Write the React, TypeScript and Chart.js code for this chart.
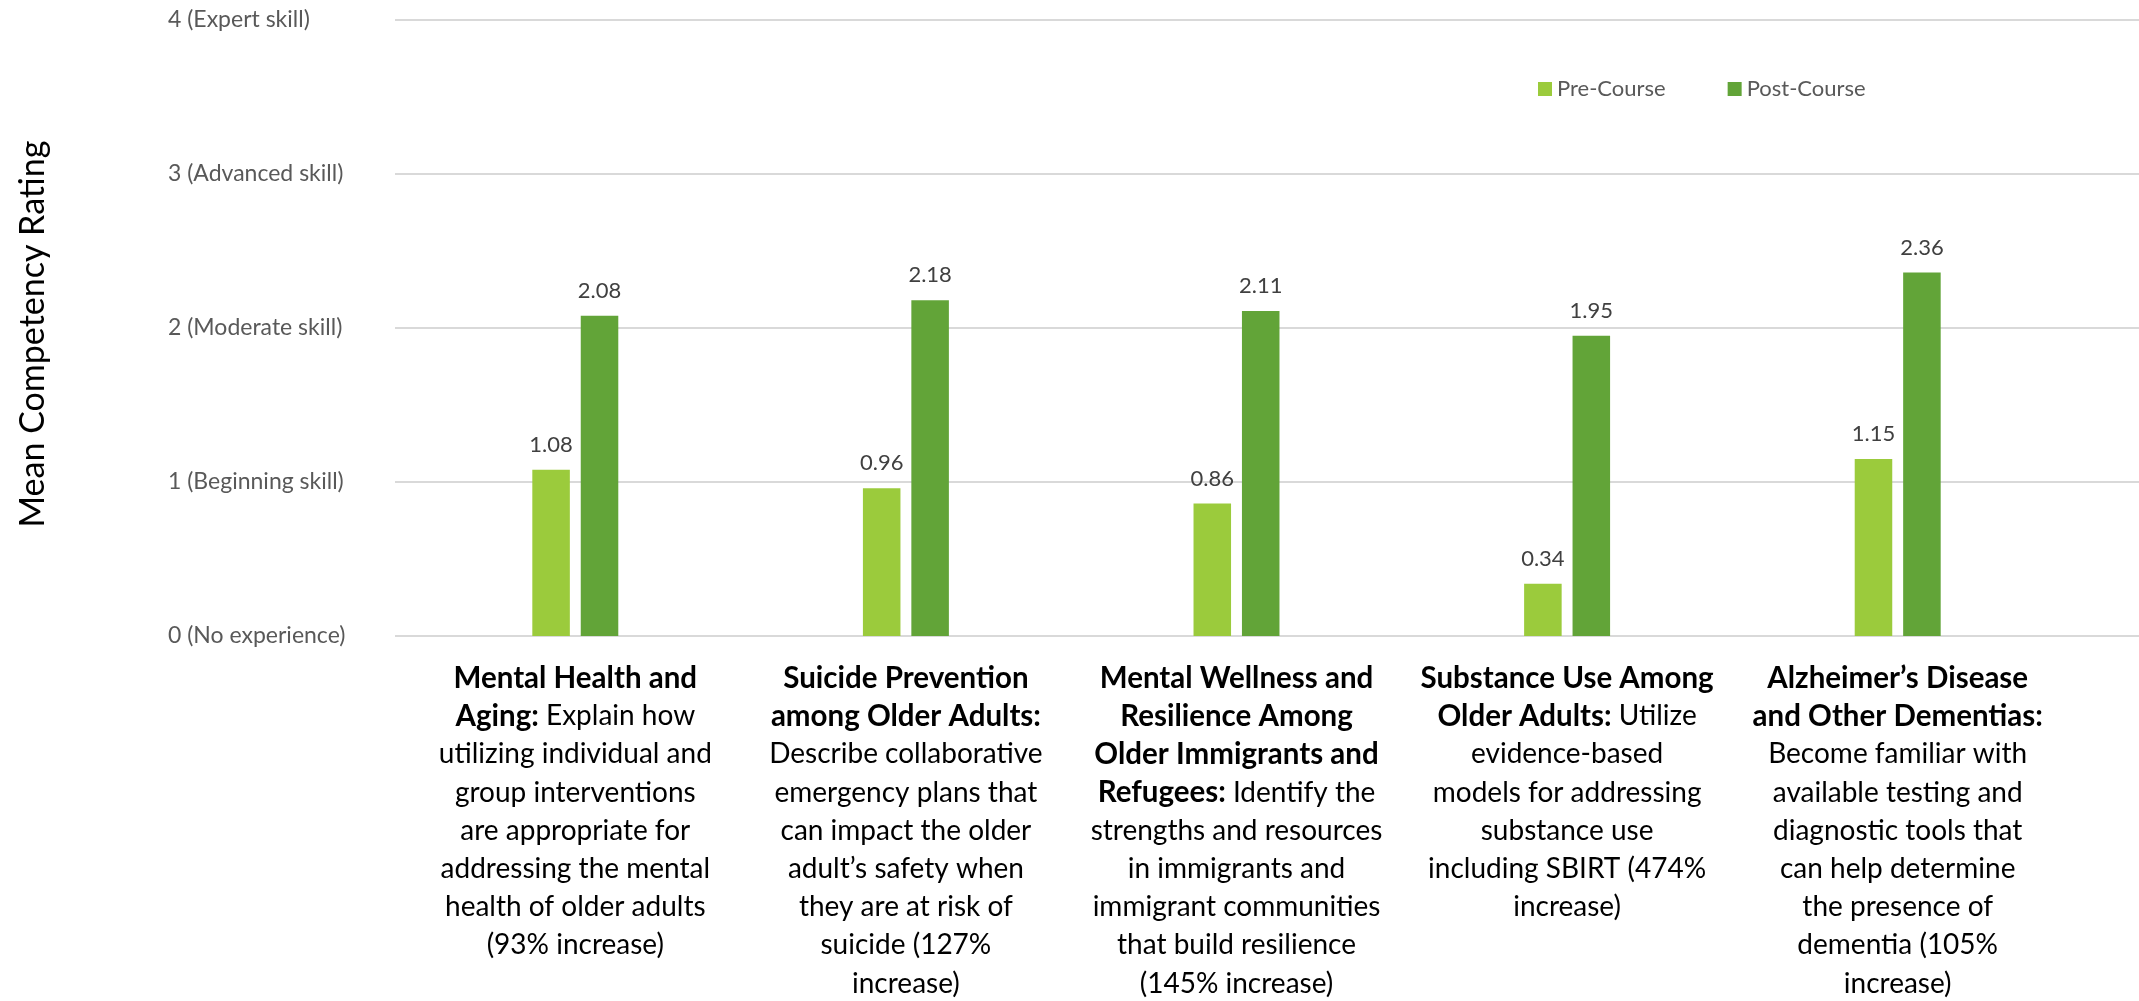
import React, { useEffect, useRef } from "react";
import { Chart, registerables } from "chart.js";

Chart.register(...registerables);

// ---------- data ----------
const categories = [
  "Mental Health and Aging",
  "Suicide Prevention among Older Adults",
  "Mental Wellness and Resilience Among Older Immigrants and Refugees",
  "Substance Use Among Older Adults",
  "Alzheimer’s Disease and Other Dementias",
];
const preCourse = [1.08, 0.96, 0.86, 0.34, 1.15];
const postCourse = [2.08, 2.18, 2.11, 1.95, 2.36];
const seriesNames = ["Pre-Course", "Post-Course"];
const yTickLabels = [
  "0 (No experience)",
  "1 (Beginning skill)",
  "2 (Moderate skill)",
  "3 (Advanced skill)",
  "4 (Expert skill)",
];
const yAxisTitle = "Mean Competency Rating";

// each line: [bold part, regular part]
const categoryLabelLines: [string, string][][] = [
  [
    ["Mental Health and", ""],
    ["Aging:", " Explain how"],
    ["", "utilizing individual and"],
    ["", "group interventions"],
    ["", "are appropriate for"],
    ["", "addressing the mental"],
    ["", "health of older adults"],
    ["", "(93% increase)"],
  ],
  [
    ["Suicide Prevention", ""],
    ["among Older Adults:", ""],
    ["", "Describe collaborative"],
    ["", "emergency plans that"],
    ["", "can impact the older"],
    ["", "adult’s safety when"],
    ["", "they are at risk of"],
    ["", "suicide (127%"],
    ["", "increase)"],
  ],
  [
    ["Mental Wellness and", ""],
    ["Resilience Among", ""],
    ["Older Immigrants and", ""],
    ["Refugees:", " Identify the"],
    ["", "strengths and resources"],
    ["", "in immigrants and"],
    ["", "immigrant communities"],
    ["", "that build resilience"],
    ["", "(145% increase)"],
  ],
  [
    ["Substance Use Among", ""],
    ["Older Adults:", " Utilize"],
    ["", "evidence-based"],
    ["", "models for addressing"],
    ["", "substance use"],
    ["", "including SBIRT (474%"],
    ["", "increase)"],
  ],
  [
    ["Alzheimer’s Disease", ""],
    ["and Other Dementias:", ""],
    ["", "Become familiar with"],
    ["", "available testing and"],
    ["", "diagnostic tools that"],
    ["", "can help determine"],
    ["", "the presence of"],
    ["", "dementia (105%"],
    ["", "increase)"],
  ],
];

// ---------- styles ----------
const FONT = "Lato, 'Open Sans', sans-serif";
const PRE_COLOR = "#9BCB3C";
const POST_COLOR = "#62A438";
const GRID_COLOR = "#D9D9D9";
const W = 2139;
const H = 1001;

const gridPlugin = {
  id: "extendedGrid",
  beforeDatasetsDraw(chart: any) {
    const ctx = chart.ctx;
    const ys = chart.scales.y;
    ctx.save();
    ctx.strokeStyle = GRID_COLOR;
    ctx.lineWidth = 2;
    ys.ticks.forEach((t: any) => {
      const y = Math.round(ys.getPixelForValue(t.value));
      ctx.beginPath();
      ctx.moveTo(395, y);
      ctx.lineTo(chart.width, y);
      ctx.stroke();
    });
    ctx.restore();
  },
};

const valueLabelPlugin = {
  id: "valueLabels",
  afterDatasetsDraw(chart: any) {
    const ctx = chart.ctx;
    ctx.save();
    ctx.font = `22px ${FONT}`;
    ctx.fillStyle = "#404040";
    ctx.textAlign = "center";
    ctx.textBaseline = "bottom";
    chart.data.datasets.forEach((ds: any, di: number) => {
      const meta = chart.getDatasetMeta(di);
      meta.data.forEach((el: any, i: number) => {
        ctx.fillText(Number(ds.data[i]).toFixed(2), el.x, el.y - 14);
      });
    });
    ctx.restore();
  },
};

const categoryLabelPlugin = {
  id: "categoryLabels",
  afterDraw(chart: any) {
    const ctx = chart.ctx;
    const xs = chart.scales.x;
    const regular = `28px ${FONT}`;
    const bold = `bold 29.5px ${FONT}`;
    ctx.save();
    ctx.fillStyle = "#000000";
    ctx.textBaseline = "middle";
    ctx.textAlign = "left";
    categoryLabelLines.forEach((lines, i) => {
      const cx = xs.getPixelForValue(i);
      lines.forEach(([b, n], j) => {
        const y = 678 + j * 38.2;
        ctx.font = bold;
        const wb = b ? ctx.measureText(b).width : 0;
        ctx.font = regular;
        const wn = n ? ctx.measureText(n).width : 0;
        let x = cx - (wb + wn) / 2;
        if (b) {
          ctx.font = bold;
          ctx.fillText(b, x, y);
          x += wb;
        }
        if (n) {
          ctx.font = regular;
          ctx.fillText(n, x, y);
        }
      });
    });
    ctx.restore();
  },
};

const yTitlePlugin = {
  id: "yTitle",
  afterDraw(chart: any) {
    const ctx = chart.ctx;
    const ca = chart.chartArea;
    ctx.save();
    ctx.translate(33, (ca.top + ca.bottom) / 2 + 6);
    ctx.rotate(-Math.PI / 2);
    ctx.font = `34px ${FONT}`;
    ctx.fillStyle = "#000000";
    ctx.textAlign = "center";
    ctx.textBaseline = "middle";
    ctx.fillText(yAxisTitle, 0, 0);
    ctx.restore();
  },
};

const legendPlugin = {
  id: "customLegend",
  afterDraw(chart: any) {
    const ctx = chart.ctx;
    ctx.save();
    ctx.font = `22px ${FONT}`;
    ctx.textBaseline = "middle";
    ctx.textAlign = "left";
    let x = 1538;
    const y = 89;
    chart.data.datasets.forEach((ds: any) => {
      ctx.fillStyle = ds.backgroundColor;
      ctx.fillRect(x, y - 7, 14, 14);
      ctx.fillStyle = "#595959";
      ctx.fillText(ds.label, x + 19, y);
      x += 19 + ctx.measureText(ds.label).width + 62;
    });
    ctx.restore();
  },
};

export default function App() {
  const canvasRef = useRef<HTMLCanvasElement | null>(null);

  useEffect(() => {
    document.body.style.margin = "0";
    document.body.style.overflow = "hidden";
    const canvas = canvasRef.current;
    if (!canvas) return;
    const chart = new Chart(canvas, {
      type: "bar",
      data: {
        labels: categories,
        datasets: [
          {
            label: seriesNames[0],
            data: preCourse,
            backgroundColor: PRE_COLOR,
            categoryPercentage: 0.293,
            barPercentage: 0.775,
          },
          {
            label: seriesNames[1],
            data: postCourse,
            backgroundColor: POST_COLOR,
            categoryPercentage: 0.293,
            barPercentage: 0.775,
          },
        ],
      },
      options: {
        responsive: false,
        animation: false,
        devicePixelRatio: 1,
        layout: { padding: { left: 168, right: 76, top: 20, bottom: 365 } },
        plugins: {
          legend: { display: false },
          tooltip: { enabled: false },
        },
        scales: {
          x: {
            display: false,
          },
          y: {
            min: 0,
            max: 4,
            grid: { display: false },
            border: { display: false },
            afterFit: (scale: any) => {
              scale.width = 242;
            },
            ticks: {
              stepSize: 1,
              crossAlign: "far",
              color: "#595959",
              font: { family: FONT, size: 23 },
              callback: (v: any) => yTickLabels[Number(v)] ?? "",
            },
          },
        },
      },
      plugins: [gridPlugin, valueLabelPlugin, categoryLabelPlugin, yTitlePlugin, legendPlugin],
    });
    return () => chart.destroy();
  }, []);

  return (
    <div style={{ width: W, height: H, background: "#ffffff" }}>
      <canvas ref={canvasRef} width={W} height={H} style={{ display: "block" }} />
    </div>
  );
}
